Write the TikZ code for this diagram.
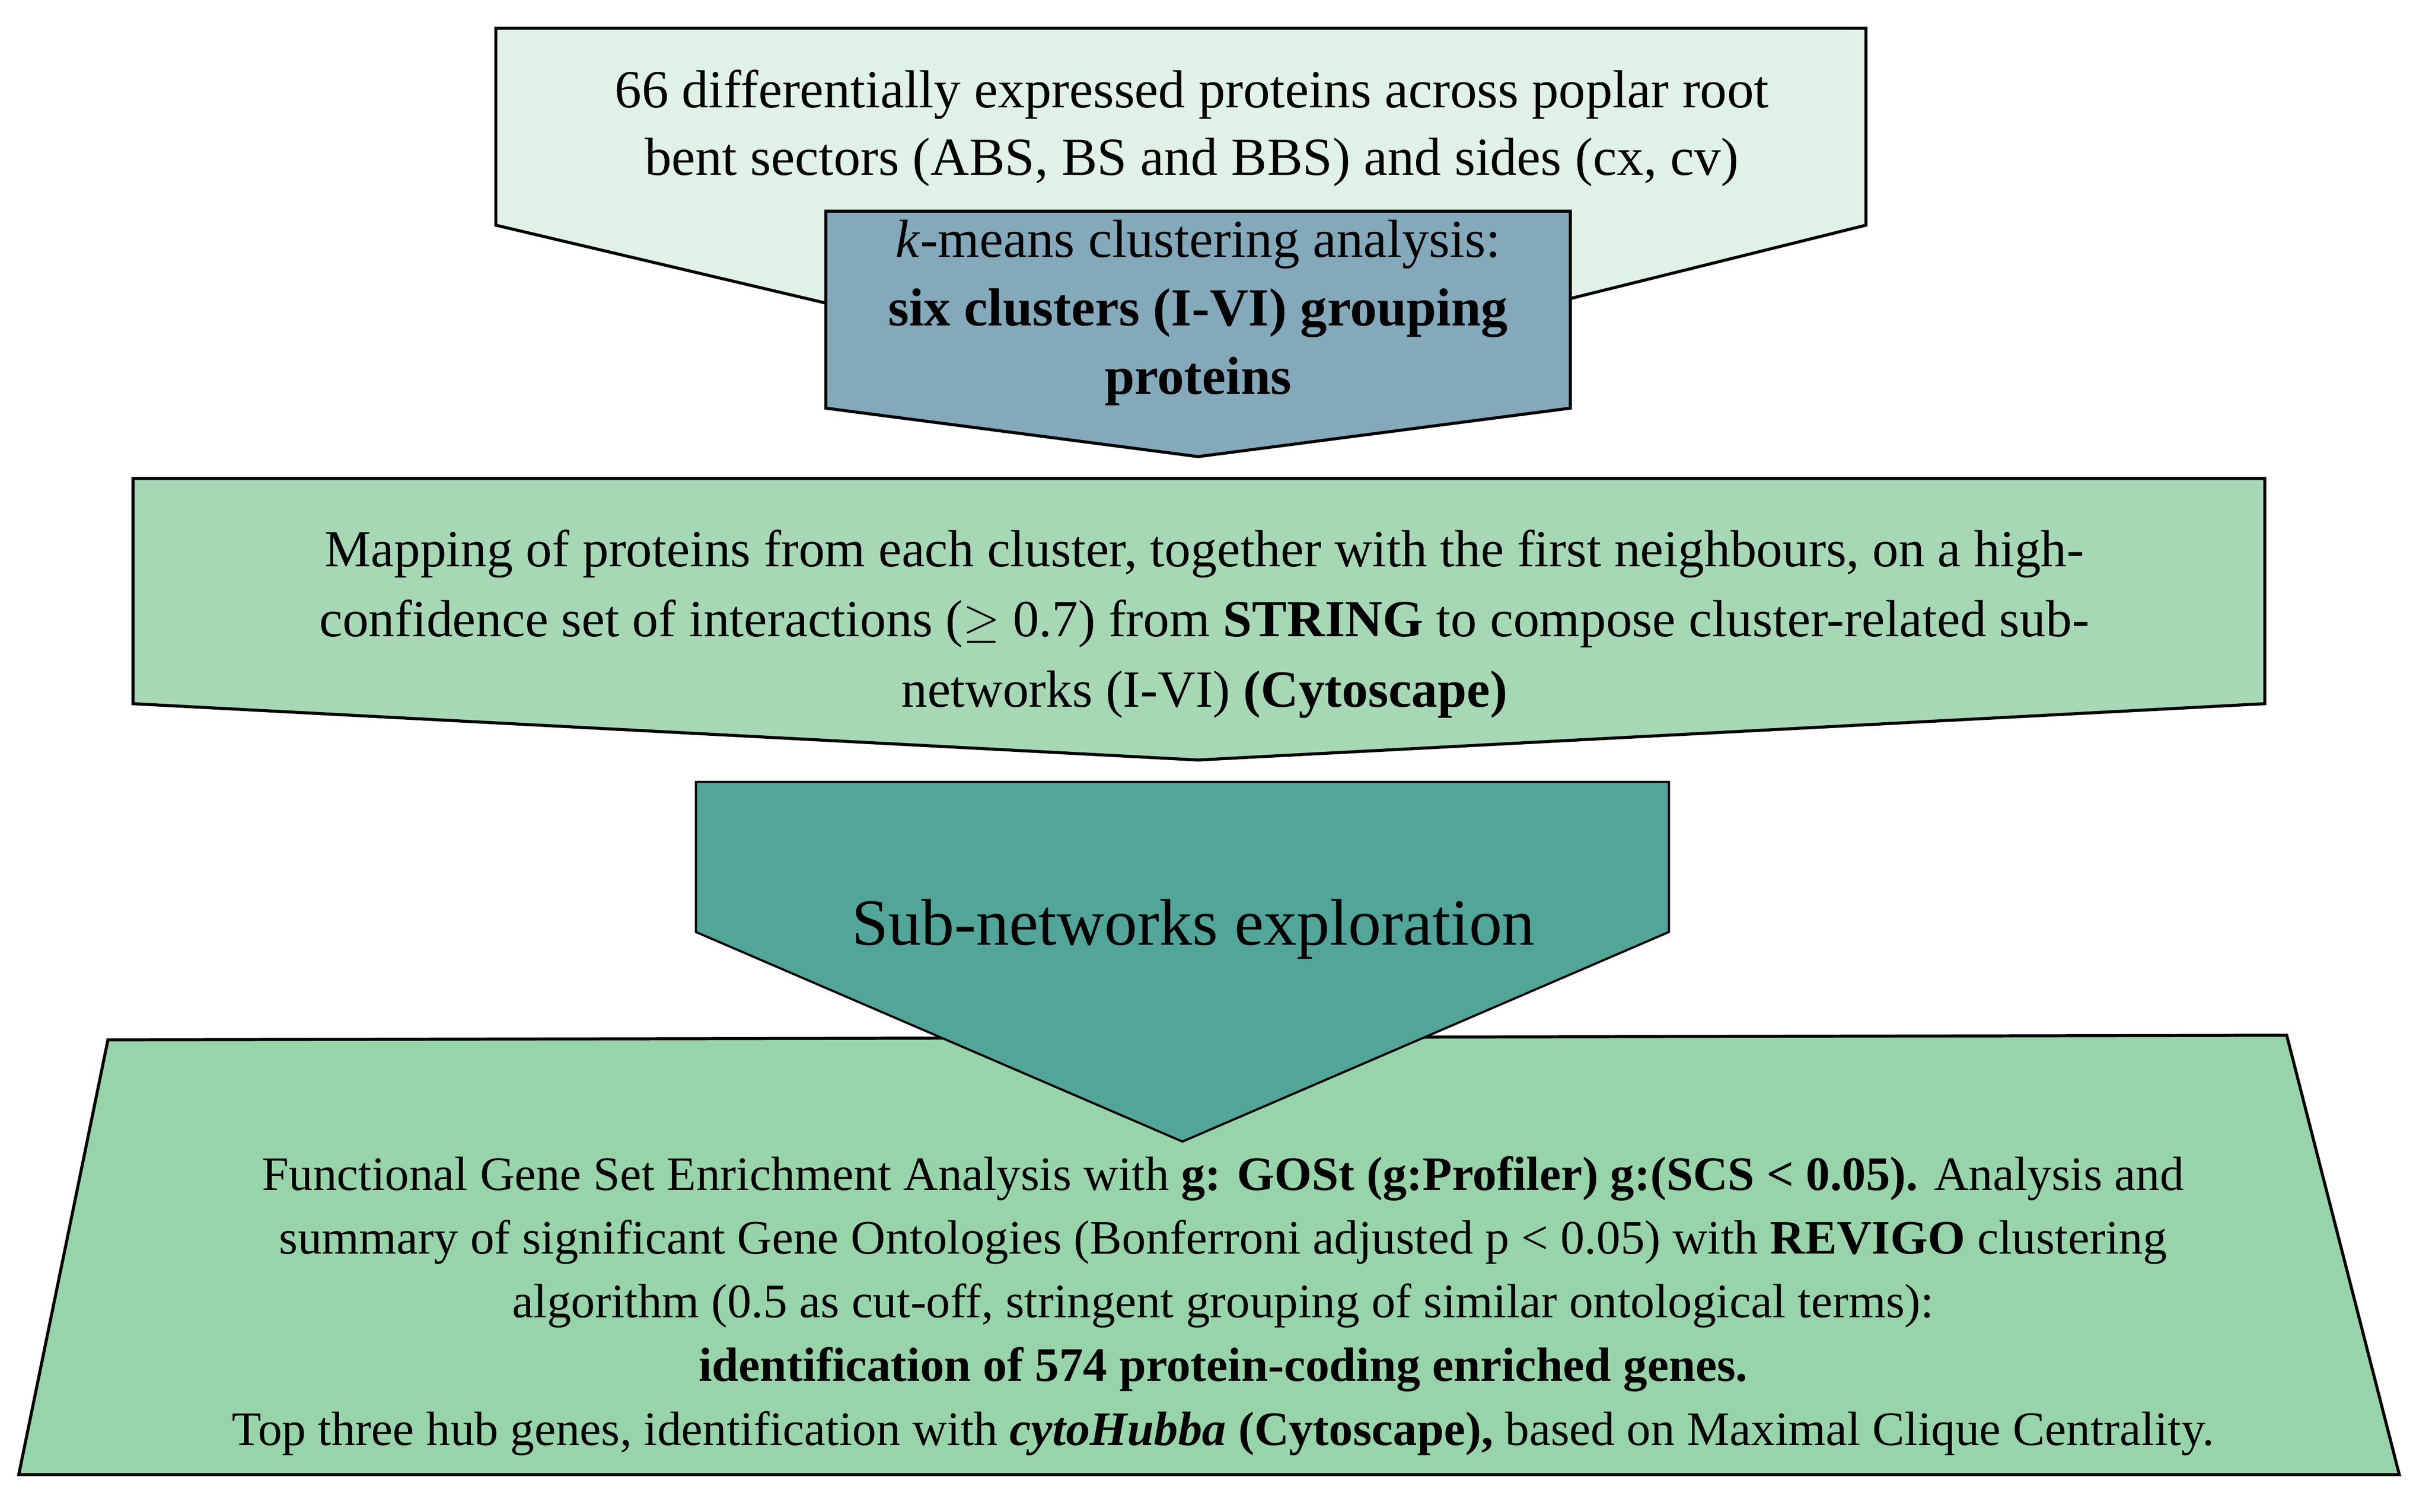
\documentclass[tikz,border=0pt]{standalone}
\usepackage{fontspec}
\setmainfont{Liberation Serif}
\definecolor{cTop}{HTML}{E0F1E6}
\definecolor{cClu}{HTML}{84A9BA}
\definecolor{cMap}{HTML}{A7D8B5}
\definecolor{cSub}{HTML}{51A699}
\definecolor{cBot}{HTML}{98D4AA}
\begin{document}
\begin{tikzpicture}[x=0.02cm,y=-0.02cm,
  box/.style={draw=black,line width=1.1pt,line join=miter},
  txt/.style={align=center,inner sep=0pt}]
\useasboundingbox (0,0) rectangle (1553,966.7);
\draw[box,fill=cTop] (317,18) -- (1193,18) -- (1193,144) -- (766,250) -- (317,144) -- cycle;
\draw[box,fill=cClu] (528,135) -- (1004,135) -- (1004,261) -- (766,292) -- (528,261) -- cycle;
\draw[box,fill=cMap] (85,306) -- (1448,306) -- (1448,450) -- (766,486) -- (85,450) -- cycle;
\draw[box,fill=cBot] (69,665) -- (1462,662) -- (1534,943) -- (12,943) -- cycle;
\draw[box,fill=cSub,line width=0.8pt] (445,500) -- (1067,500) -- (1067,596) -- (756,730) -- (445,596) -- cycle;
\node[txt,font=\fontsize{19.5}{24.5}\selectfont] (t1) at (762,82) {66 differentially expressed proteins across poplar root\\bent sectors (ABS, BS and BBS) and sides (cx, cv)};
\node[txt,font=\fontsize{19.5}{25}\selectfont] (t2) at (766,200) {\textit{k}-means clustering analysis:\\\textbf{six clusters (I-VI) grouping}\\\textbf{proteins}};
\node[txt,font=\fontsize{19}{25.5}\selectfont] (t3) at (770,399) {Mapping of proteins from each cluster, together with the first neighbours, on a high-\\confidence set of interactions ($\geq$ 0.7) from \textbf{STRING} to compose cluster-related sub-\\networks (I-VI) \textbf{(Cytoscape)}};
\node[txt,font=\fontsize{24}{28}\selectfont] (t4) at (763,594) {Sub-networks exploration};
\node[txt,font=\fontsize{17.5}{23.2}\selectfont] (t5) at (782,835) {Functional Gene Set Enrichment Analysis with \textbf{g: GOSt (g:Profiler) g:(SCS < 0.05).} Analysis and\\summary of significant Gene Ontologies (Bonferroni adjusted p < 0.05) with \textbf{REVIGO} clustering\\algorithm (0.5 as cut-off, stringent grouping of similar ontological terms):\\\textbf{identification of 574 protein-coding enriched genes.}\\Top three hub genes, identification with \textbf{\textit{cytoHubba}} \textbf{(Cytoscape),} based on Maximal Clique Centrality.};
\end{tikzpicture}
\end{document}
